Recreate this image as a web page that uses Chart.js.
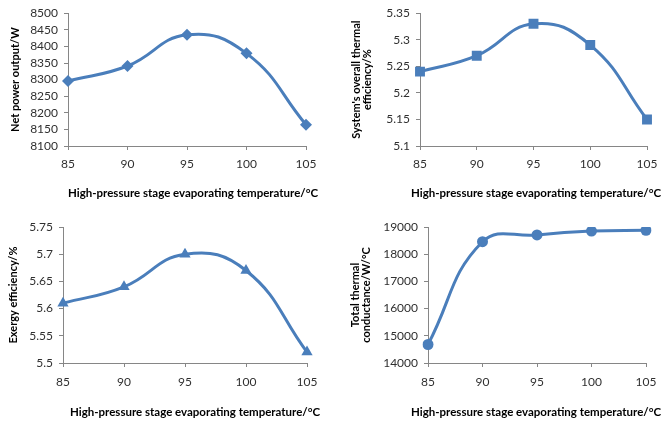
<!DOCTYPE html>
<html>
<head>
<meta charset="utf-8">
<script src="https://cdn.jsdelivr.net/npm/chart.js@4.4.1/dist/chart.umd.min.js"></script>
<style>
  body { margin: 0; background: #fff; width: 667px; height: 423px; position: relative; overflow: hidden; }
  canvas { position: absolute; }
  .xt { position: absolute; font: bold 11.5px Lato, sans-serif; white-space: nowrap; color: #000; line-height: 14px; }
</style>
</head>
<body>
<canvas id="c1" width="333" height="211" style="left:0;top:0"></canvas>
<canvas id="c2" width="334" height="211" style="left:333px;top:0"></canvas>
<canvas id="c3" width="333" height="212" style="left:0;top:211px"></canvas>
<canvas id="c4" width="334" height="212" style="left:333px;top:211px"></canvas>
<div class="xt" style="left:68px;top:186px">High-pressure stage evaporating temperature/°C</div>
<div class="xt" style="left:411px;top:186px">High-pressure stage evaporating temperature/°C</div>
<div class="xt" style="left:70px;top:405px">High-pressure stage evaporating temperature/°C</div>
<div class="xt" style="left:411px;top:405px">High-pressure stage evaporating temperature/°C</div>
<script>
const temps = ['85', '90', '95', '100', '105'];
const netPower = [8296, 8341, 8435, 8379, 8164];
const thermalEff = [5.24, 5.27, 5.33, 5.29, 5.15];
const exergyEff = [5.61, 5.64, 5.70, 5.67, 5.52];
const conductance = [14680, 18460, 18710, 18850, 18880];

const powerTicks = ['8100', '8150', '8200', '8250', '8300', '8350', '8400', '8450', '8500'];
const thermalTicks = ['5.1', '5.15', '5.2', '5.25', '5.3', '5.35'];
const exergyTicks = ['5.5', '5.55', '5.6', '5.65', '5.7', '5.75'];
const condTicks = ['14000', '15000', '16000', '17000', '18000', '19000'];

const BLUE = '#4a7ebb';
const AXIS = '#868686';
const FONT = 'Lato, sans-serif';

// area: [left, right, top, bottom] of the plot inside its canvas
function makeChart(id, values, ticks, step, pointStyle, radius, yTitle, titlePad, area, xPad) {
  const cv = document.getElementById(id);
  const [l, r, t, b] = area;
  new Chart(cv, {
    type: 'line',
    data: {
      labels: temps,
      datasets: [{
        data: values,
        borderColor: BLUE,
        backgroundColor: BLUE,
        borderWidth: 3,
        tension: 0.45,
        pointStyle: pointStyle,
        pointRadius: radius,
        pointBorderWidth: 0,
        pointBackgroundColor: BLUE,
      }],
    },
    options: {
      responsive: false,
      animation: false,
      layout: { padding: { left: 0, top: t, right: cv.width - r, bottom: 0 } },
      plugins: { legend: { display: false }, tooltip: { enabled: false } },
      scales: {
        x: {
          offset: false,
          grid: { drawOnChartArea: false, color: AXIS, tickLength: 4 },
          border: { color: AXIS },
          ticks: { color: '#303030', font: { family: FONT, size: 12 }, padding: xPad, maxRotation: 0, autoSkip: false },
          afterFit: s => { s.height = cv.height - b; },
        },
        y: {
          min: Number(ticks[0]),
          max: Number(ticks[ticks.length - 1]),
          grid: { drawOnChartArea: false, color: AXIS, tickLength: 4 },
          border: { color: AXIS },
          ticks: {
            stepSize: step,
            autoSkip: false,
            color: '#303030',
            font: { family: FONT, size: 12 },
            padding: 6,
            callback: (v, i) => ticks[i],
          },
          title: {
            display: true,
            text: yTitle,
            color: '#000',
            font: { family: FONT, size: 11, weight: 'bold', lineHeight: '11px' },
            padding: { top: titlePad, bottom: 0 },
          },
          afterFit: s => { s.width = l; },
        },
      },
    },
  });
}

makeChart('c1', netPower, powerTicks, 50, 'rectRot', 6, 'Net power output/W', 9.5, [68, 306, 10, 146], 7);
makeChart('c2', thermalEff, thermalTicks, 0.05, 'rect', 7, ["System's overall thermal", 'efficiency/%'], 17.5, [87, 314, 10, 146], 7);
makeChart('c3', exergyEff, exergyTicks, 0.05, 'triangle', 6.5, 'Exergy efficiency/%', 7.5, [63, 307, 16, 152], 8);
makeChart('c4', conductance, condTicks, 1000, 'circle', 5.5, ['Total thermal', 'conductance/W/°C'], 16.5, [95, 313, 16, 152], 8);
</script>
</body>
</html>
